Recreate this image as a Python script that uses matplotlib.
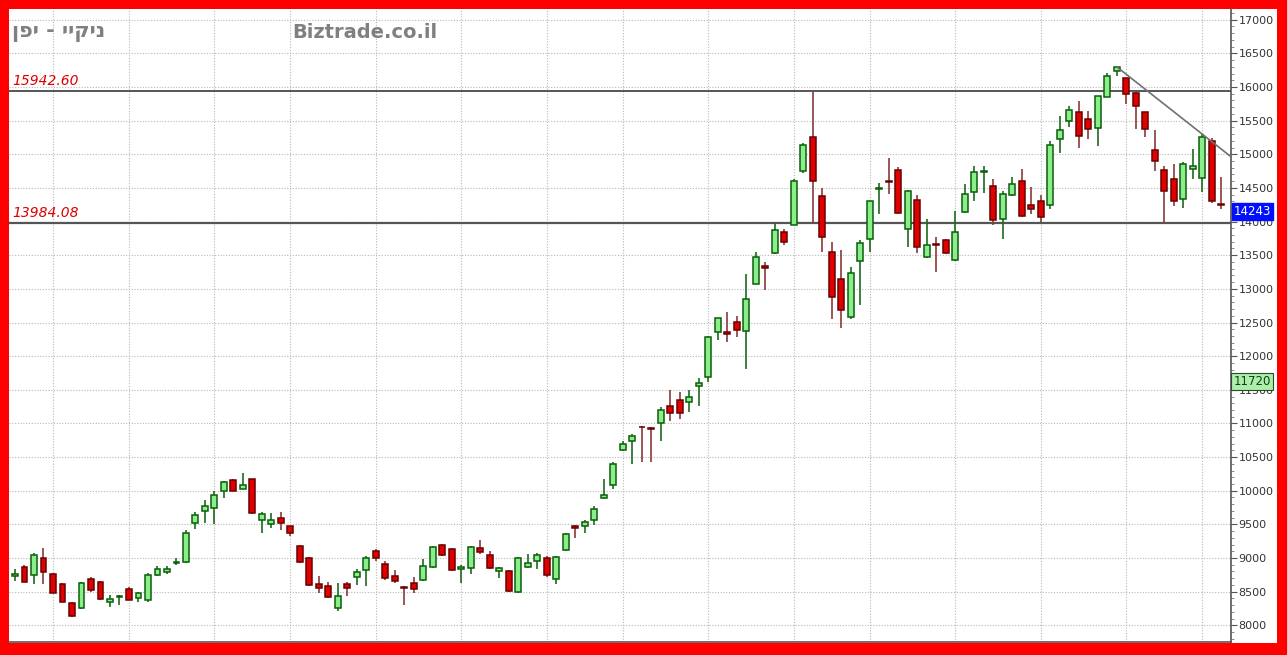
import matplotlib
matplotlib.use("Agg")
import matplotlib.pyplot as plt
import matplotlib.transforms as mtransforms
from matplotlib.patches import Rectangle
from matplotlib.ticker import MultipleLocator, FixedLocator
import numpy as np

# Weekly Nikkei candles: open, high, low, close
opens = [8740, 8870, 8745, 9000, 8760, 8620, 8335, 8250, 8690, 8645,
         8350, 8420, 8545, 8410, 8380, 8745, 8795, 8925, 8935, 9525,
         9705, 9750, 10000, 10160, 10030, 10170, 9565, 9505, 9600, 9470,
         9185, 8995, 8610, 8580, 8260, 8610, 8715, 8815, 9100, 8910,
         8735, 8570, 8635, 8670, 8860, 9195, 9130, 8830, 8845, 9145,
         9050, 8810, 8805, 8500, 8865, 8955, 9000, 8685, 9125, 9470,
         9475, 9570, 9890, 10090, 10600, 10745, 10950, 10935, 11005, 11265,
         11350, 11315, 11560, 11690, 12360, 12360, 12510, 12375, 13075, 13336,
         13530, 13845, 13955, 14745, 15260, 14380, 13550, 13140, 12575, 13410,
         13735, 14490, 14600, 14770, 13890, 14315, 13470, 13670, 13720, 13425,
         14140, 14445, 14735, 14530, 14040, 14395, 14605, 14250, 14305, 14245,
         15225, 15490, 15635, 15530, 15390, 15855, 16240, 16130, 15905, 15625,
         15070, 14765, 14640, 14330, 14780, 14645, 15200, 14250]
highs = [8840, 8895, 9070, 9145, 8770, 8630, 8350, 8640, 8720, 8655,
         8450, 8450, 8570, 8490, 8770, 8875, 8885, 9000, 9420, 9685,
         9860, 10000, 10150, 10170, 10260, 10180, 9680, 9670, 9690, 9480,
         9195, 9010, 8730, 8645, 8635, 8645, 8840, 9025, 9135, 8950,
         8820, 8585, 8720, 8985, 9175, 9215, 9145, 8890, 9180, 9275,
         9100, 8870, 8820, 9010, 9060, 9080, 9025, 9030, 9375, 9485,
         9570, 9780, 10170, 10430, 10740, 10845, 10955, 10945, 11245, 11495,
         11465, 11500, 11670, 12305, 12570, 12660, 12600, 13225, 13555, 13395,
         13975, 13885, 14635, 15165, 15942.60, 14505, 13700, 13580, 13320, 13720,
         14300, 14570, 14940, 14810, 14470, 14395, 14040, 13765, 13735, 14150,
         14555, 14820, 14820, 14635, 14450, 14660, 14785, 14510, 14400, 15190,
         15570, 15720, 15795, 15645, 15860, 16205, 16300, 16140, 15920, 15630,
         15365, 14830, 14855, 14890, 15075, 15300, 15240, 14655]
lows = [8660, 8640, 8620, 8620, 8475, 8340, 8125, 8240, 8495, 8375,
        8270, 8300, 8370, 8350, 8350, 8730, 8760, 8890, 8925, 9435,
        9520, 9510, 9885, 9990, 10020, 9650, 9370, 9450, 9410, 9325,
        8925, 8585, 8480, 8410, 8210, 8430, 8600, 8590, 8960, 8680,
        8635, 8300, 8480, 8660, 8845, 9035, 8805, 8635, 8760, 9060,
        8830, 8710, 8500, 8475, 8850, 8830, 8720, 8610, 9110, 9300,
        9375, 9490, 9870, 10030, 10590, 10395, 10430, 10430, 10740, 11040,
        11065, 11175, 11255, 11610, 12240, 12215, 12285, 11810, 13065, 12990,
        13520, 13655, 13945, 14720, 13984.08, 13555, 12545, 12415, 12550, 12760,
        13550, 14110, 14410, 14110, 13620, 13530, 13460, 13245, 13520, 13415,
        14125, 14310, 14420, 13950, 13745, 14385, 14070, 14115, 14000, 14185,
        15015, 15400, 15100, 15225, 15125, 15845, 16165, 15745, 15375, 15260,
        14755, 13984.08, 14235, 14195, 14630, 14435, 14270, 14185]
closes = [8760, 8650, 9045, 8785, 8485, 8350, 8145, 8625, 8525, 8390,
          8385, 8440, 8380, 8480, 8750, 8835, 8830, 8935, 9375, 9645,
          9775, 9935, 10125, 10000, 10085, 9675, 9650, 9560, 9520, 9375,
          8935, 8595, 8555, 8425, 8435, 8555, 8790, 8995, 9000, 8700,
          8655, 8550, 8540, 8875, 9160, 9050, 8815, 8870, 9160, 9095,
          8845, 8855, 8510, 9000, 8925, 9045, 8745, 9015, 9360, 9450,
          9530, 9735, 9940, 10400, 10690, 10810, 10940, 10920, 11195, 11155,
          11160, 11395, 11605, 12285, 12570, 12330, 12390, 12845, 13480, 13312,
          13875, 13690, 14610, 15135, 14605, 13775, 12875, 12690, 13230, 13685,
          14300, 14505, 14585, 14120, 14460, 13620, 13645, 13650, 13540, 13850,
          14405, 14735, 14755, 14025, 14405, 14555, 14080, 14185, 14070, 15140,
          15365, 15655, 15270, 15375, 15860, 16165, 16290, 15895, 15720, 15375,
          14895, 14450, 14300, 14855, 14830, 15260, 14310, 14243]

# Candle indices where the vertical date grid falls
grid_positions = [4, 12, 21, 29, 38, 47, 56, 64, 73, 82, 90, 99, 108, 117, 125]
y_ticks = list(range(8000, 17001, 500))

title_he = "ניקיי - יפן"
site_name = "Biztrade.co.il"
last_price = 14243
marker_price = 11720

W, H = 1287, 655
fig = plt.figure(figsize=(W / 100, H / 100), dpi=100, facecolor="#ff0000")

# White panel inside the red frame
fig.patches.append(Rectangle((9 / W, 12 / H), (1277 - 9) / W, (H - 12 - 9) / H,
                             transform=fig.transFigure, facecolor="white",
                             edgecolor="none", zorder=-10))

ax = fig.add_axes([9 / W, (H - 642) / H, (1231 - 9) / W, (642 - 9) / H])
ax.set_zorder(1)
ax.set_facecolor("white")

n = len(opens)
x = np.arange(n)
o = np.array(opens, dtype=float)
h = np.array(highs, dtype=float)
l = np.array(lows, dtype=float)
c = np.array(closes, dtype=float)
up = c >= o

ax.set_xlim(-0.63, 128.03)
ax.set_ylim(7752, 17159)

# Grid
for yv in y_ticks:
    ax.axhline(yv, color="#b8b8b8", lw=0.8, ls=(0, (1, 1.5)), zorder=1)
for gx in grid_positions:
    ax.axvline(gx, color="#b8b8b8", lw=0.8, ls=(0, (1, 1.5)), zorder=1)

# Support / resistance levels taken from the swing candle
resistance = highs[84]
support = lows[84]
ax.axhline(resistance, color="#555555", lw=1.4, zorder=2)
ax.axhline(support, color="#555555", lw=1.6, zorder=2)

green_fill, green_edge = "#8aee8a", "#0b5e0b"
red_fill, red_edge = "#e00000", "#6a0000"
green_wick, red_wick = "#1c6a1c", "#8a3a3a"

ax.vlines(x[up], l[up], h[up], color=green_wick, lw=1.2, zorder=3)
ax.vlines(x[~up], l[~up], h[~up], color=red_wick, lw=1.2, zorder=3)

bottoms = np.minimum(o, c)
heights = np.maximum(np.abs(c - o), 12)
ax.bar(x[up], heights[up], bottom=bottoms[up], width=0.62,
       color=green_fill, edgecolor=green_edge, lw=1.1, zorder=4)
ax.bar(x[~up], heights[~up], bottom=bottoms[~up], width=0.62,
       color=red_fill, edgecolor=red_edge, lw=1.1, zorder=4)

# Downward trend line through two swing highs, extended to the right edge
i0, i1 = 116, 125
slope = (highs[i1] - highs[i0]) / (i1 - i0)
x_end = ax.get_xlim()[1]
ax.plot([i0, x_end], [highs[i0], highs[i0] + slope * (x_end - i0)],
        color="#707070", lw=1.2, zorder=5, solid_capstyle="butt")

# Axis styling: price scale on the right
for side in ("left", "top"):
    ax.spines[side].set_visible(False)
ax.spines["right"].set_color("#555555")
ax.spines["bottom"].set_color("#555555")
ax.spines["right"].set_linewidth(1.2)
ax.spines["bottom"].set_linewidth(1.2)
ax.yaxis.tick_right()
ax.yaxis.set_major_locator(FixedLocator(y_ticks))
ax.yaxis.set_minor_locator(MultipleLocator(100))
ax.tick_params(axis="y", which="major", direction="out", length=4,
               color="#555555", labelsize=8, labelcolor="#333333", pad=1.5)
ax.tick_params(axis="y", which="minor", direction="out", length=2,
               color="#777777")
ax.set_yticklabels([str(v) for v in y_ticks])
ax.set_xticks([])

blend = mtransforms.blended_transform_factory(ax.transAxes, ax.transData)

# Level labels
ax.text(0.003, resistance + 45, f"{resistance:.2f}", transform=blend,
        color="#dd0000", fontsize=10, style="italic", ha="left", va="bottom", zorder=6)
ax.text(0.003, support + 45, f"{support:.2f}", transform=blend,
        color="#dd0000", fontsize=10, style="italic", ha="left", va="bottom", zorder=6)

# Title and site name (Hebrew drawn in visual order)
fig.text(12 / W, 1 - 32 / H, title_he[::-1], color="#808080", fontsize=15,
         fontweight="bold", ha="left", va="center", family="DejaVu Sans", zorder=5)
fig.text(292 / W, 1 - 32 / H, site_name, color="#808080", fontsize=14,
         fontweight="bold", ha="left", va="center", family="DejaVu Sans", zorder=5)

# Price tags on the scale
ax.text(1.002, last_price, f"{last_price}", transform=blend, color="white",
        fontsize=8.5, ha="left", va="top", zorder=7, clip_on=False,
        bbox=dict(boxstyle="square,pad=0.15", facecolor="#0010ff",
                  edgecolor="#0010ff"))
ax.text(1.002, marker_price, f"{marker_price}", transform=blend, color="#1a3a1a",
        fontsize=8.5, ha="left", va="top", zorder=7, clip_on=False,
        bbox=dict(boxstyle="square,pad=0.2", facecolor="#aaf0aa",
                  edgecolor="#2a4a2a", lw=0.8))

fig.savefig("out.png", dpi=100, facecolor=fig.get_facecolor())
